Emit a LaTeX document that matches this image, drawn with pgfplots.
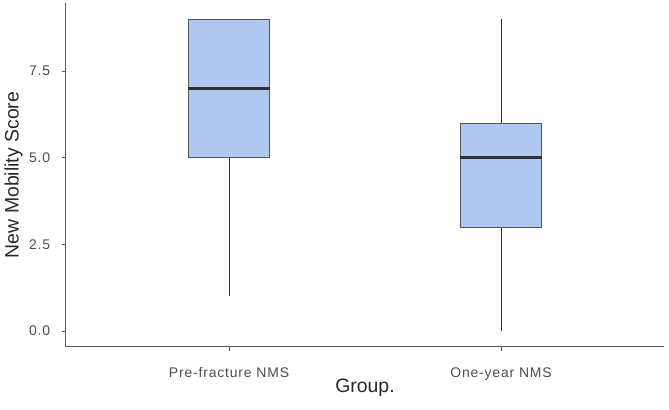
\documentclass[border=0pt]{standalone}
\usepackage{pgfplots}
\pgfplotsset{compat=1.18}
\usepgfplotslibrary{statistics}
\usepackage{fontspec}
\setmainfont{Liberation Sans}
\newfontfamily\tickfont[LetterSpace=6]{Liberation Sans}
\definecolor{boxfill}{RGB}{174,200,240}
\definecolor{boxline}{RGB}{85,85,85}
\definecolor{medline}{RGB}{50,50,50}
\definecolor{axisgray}{RGB}{90,90,90}
\definecolor{ticktext}{RGB}{77,77,77}
\definecolor{titletext}{RGB}{40,40,40}
\begin{document}
\begin{tikzpicture}
\path[use as bounding box] (0,0) rectangle (669bp,410bp);
\begin{axis}[
  at={(65.8bp,63.4bp)}, anchor=south west,
  width=598.4bp, height=343.2bp, scale only axis,
  xmin=0.4, xmax=2.6, ymin=-0.45, ymax=9.45,
  axis x line*=bottom, axis y line*=left,
  axis line style={-, draw=axisgray, line width=0.9bp},
  tick align=outside, major tick length=4bp,
  tick style={draw=axisgray, line width=0.9bp},
  xtick={1,2}, xticklabels={Pre-fracture NMS, One-year NMS},
  ytick={0,2.5,5,7.5},
  /pgf/number format/assume math mode=true,
  yticklabel={\pgfmathprintnumber[fixed,fixed zerofill,precision=1]{\tick}},
  xticklabel style={font=\tickfont\fontsize{14}{14}\selectfont, text=ticktext, anchor=base, inner sep=0pt, yshift=-26.4bp},
  yticklabel style={font=\tickfont\fontsize{14}{14}\selectfont, text=ticktext, anchor=east, inner sep=0pt, xshift=-11.5bp},
  xlabel={Group.}, ylabel={New Mobility Score},
  xlabel style={font=\fontsize{19.5}{19.5}\selectfont, text=titletext, at={(axis description cs:0.5,-0.1352)}, anchor=base, inner sep=0pt},
  ylabel style={font=\fontsize{19.5}{19.5}\selectfont, text=titletext, at={(axis description cs:-0.0790,0.5)}, anchor=base, inner sep=0pt},
  boxplot/draw direction=y,
  boxplot/box extend=0.3,
  boxplot/whisker extend=0,
  boxplot/every box/.style={draw=boxline, fill=boxfill, line width=1bp},
  boxplot/every whisker/.style={draw=medline, line width=1bp},
  boxplot/every median/.style={draw=medline, line width=2.4bp},
]
\addplot[boxplot prepared={lower whisker=1, lower quartile=5, median=7, upper quartile=9, upper whisker=9, draw position=1}] coordinates {};
\addplot[boxplot prepared={lower whisker=0, lower quartile=3, median=5, upper quartile=6, upper whisker=9, draw position=2}] coordinates {};
\end{axis}
\end{tikzpicture}
\end{document}
